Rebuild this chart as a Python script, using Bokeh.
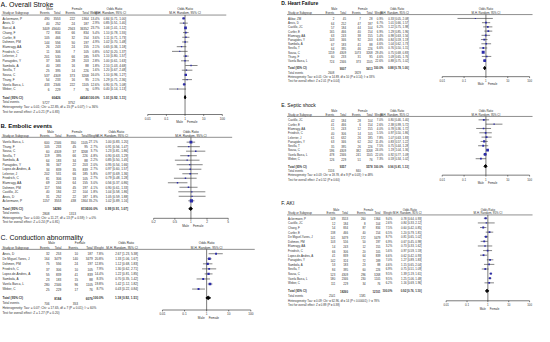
import math
from bokeh.plotting import figure
from bokeh.models import Range1d, LogScale
from bokeh.embed import file_html
from bokeh.resources import INLINE
from bokeh.core.properties import value

FONT = value("Liberation Sans")
INK = "#303030"
BLUE = "#2a2aa8"

# ---------------- data ----------------
# A. Overall Stroke
a_study = ["Ackermann, P", "Anvis, D", "Barcal, A", "Chang, F", "Curtler, E", "Dohmen, PM",
           "Elamragy, AA", "Friedrich, C", "Lelerrier, J", "Panagides, Y", "Sambola, A",
           "Sevilla, T", "Sousa, C", "Thuny, F", "Varela Barca, L", "Weber, C"]
a_m_ev = [490, 40, 3409, 72, 105, 144, 26, 11, 201, 37, 40, 25, 537, 54, 433, 6]
a_m_tot = [3553, 252, 45640, 834, 466, 556, 243, 306, 530, 346, 183, 395, 4309, 233, 2346, 229]
a_f_ev = [222, 24, 2563, 66, 32, 50, 24, 7, 66, 28, 16, 14, 373, 16, 222, 7]
a_f_tot = [1364, 187, 36352, 834, 154, 197, 155, 105, 185, 203, 88, 226, 3268, 95, 1105, 76]
a_weight = [13.4, 2.9, 23.7, 5.4, 3.6, 4.9, 2.1, 0.8, 5.6, 2.8, 1.8, 1.6, 16.0, 2.1, 12.6, 0.9]
a_or = [0.84, 0.85, 1.06, 1.10, 1.11, 1.02, 0.65, 0.52, 1.10, 1.00, 2.10, 1.20, 1.10, 1.29, 0.90, 0.40]
a_lo = [0.71, 0.51, 1.01, 0.78, 0.71, 0.70, 0.36, 0.20, 0.80, 0.61, 1.03, 0.67, 0.96, 0.71, 0.75, 0.14]
a_hi = [1.00, 1.40, 1.12, 1.55, 1.73, 1.48, 1.18, 1.37, 1.57, 1.63, 4.68, 2.48, 1.27, 2.36, 1.08, 1.13]
a_total = dict(m_tot=60426, f_tot=44540, orv=1.01, lo=0.92, hi=1.11, m_ev=5727, f_ev=3752,
               het="Heterogeneity: Tau\u00b2 = 0.01; Chi\u00b2 = 22.85, df = 15 (P = 0.07); I\u00b2 = 36%",
               test="Test for overall effect: Z = 0.21 (P = 0.83)")
a_ticks = [0.01, 0.1, 1, 10, 100]
a_tick_labels = ["0.01", "0.1", "1", "10", "100"]

# B. Embolic events
b_study = ["Varela Barca, L", "Thuny, F", "Sousa, C", "Sevilla, T", "Sambola, A", "Panagides, Y",
           "Lopez-de-Andres, A", "Lelerrier, J", "Friedrich, C", "Elamragy, AA", "Dohmen, PM",
           "Castillo, JC", "Anvis, D", "Ackermann, P"]
b_m_ev = [600, 105, 60, 119, 64, 36, 34, 202, 81, 69, 117, 40, 31, 1157]
b_m_tot = [2346, 233, 4309, 395, 183, 347, 839, 531, 306, 243, 556, 184, 252, 3553]
b_f_ev = [350, 45, 37, 66, 34, 22, 35, 66, 33, 64, 45, 22, 22, 438]
b_f_tot = [1105, 95, 3268, 226, 88, 203, 839, 185, 105, 155, 197, 104, 187, 1364]
b_weight = [27.1, 2.7, 3.7, 4.8, 2.2, 2.0, 2.7, 5.8, 2.7, 3.0, 4.1, 1.8, 1.8, 35.2]
b_or = [1.00, 0.91, 1.23, 0.90, 0.85, 0.95, 0.97, 0.97, 0.79, 0.56, 0.90, 1.04, 1.05, 1.02]
b_lo = [0.83, 0.56, 0.81, 0.63, 0.50, 0.54, 0.60, 0.69, 0.48, 0.37, 0.61, 0.58, 0.59, 0.89]
b_hi = [1.20, 1.47, 1.86, 1.29, 1.45, 1.66, 1.57, 1.36, 1.28, 0.86, 1.33, 1.86, 1.88, 1.16]
b_total = dict(m_tot=14280, f_tot=8116, orv=0.99, lo=0.91, hi=1.07, m_ev=2808, f_ev=1313,
               het="Heterogeneity: Tau\u00b2 = 0.00; Chi\u00b2 = 11.27, df = 13 (P = 0.59); I\u00b2 = 0%",
               test="Test for overall effect: Z = 0.24 (P = 0.81)")
b_ticks = [0.2, 0.5, 1, 2, 5]
b_tick_labels = ["0.2", "0.5", "1", "2", "5"]

# C. Conduction abnormality
c_study = ["Anvis, D", "De Miguel-Yanes, J", "Dohmen, PM", "Friedrich, C", "Lopez-de-Andres, A",
           "Sambola, A", "Varela Barca, L", "Weber, C"]
c_m_ev = [32, 164, 75, 37, 55, 23, 280, 25]
c_m_tot = [253, 3479, 556, 306, 839, 183, 2346, 229]
c_f_ev = [10, 140, 24, 10, 41, 15, 96, 17]
c_f_tot = [187, 3479, 197, 105, 839, 88, 1105, 76]
c_weight = [7.8, 20.8, 12.8, 7.9, 14.4, 8.3, 19.8, 8.7]
c_or = [2.67, 1.33, 1.12, 1.30, 1.22, 0.70, 1.42, 0.43]
c_lo = [1.23, 1.06, 0.68, 0.62, 0.81, 0.35, 1.12, 0.22]
c_hi = [5.38, 1.67, 1.83, 2.71, 1.85, 1.42, 1.82, 0.84]
c_total = dict(m_tot=8184, f_tot=6076, orv=1.18, lo=0.92, hi=1.51, m_ev=706, f_ev=353,
               het="Heterogeneity: Tau\u00b2 = 0.07; Chi\u00b2 = 17.65, df = 7 (P = 0.01); I\u00b2 = 60%",
               test="Test for overall effect: Z = 1.27 (P = 0.20)")
c_ticks = [0.01, 0.1, 1, 10, 100]
c_tick_labels = ["0.01", "0.1", "1", "10", "100"]

# D. Heart Failure
d_study = ["Akbar, ZM", "Anvis, D", "Castillo, JC", "Curtler, E", "Elamragy, AA", "Panagides, Y",
           "Sambola, A", "Sevilla, T", "Sousa, C", "Thuny, F", "Varela Barca, L"]
d_m_ev = [2, 64, 57, 165, 63, 143, 67, 64, 1159, 60, 724]
d_m_tot = [45, 252, 184, 466, 243, 346, 183, 395, 4309, 233, 2346]
d_f_ev = [7, 47, 44, 40, 38, 92, 41, 46, 1073, 31, 373]
d_f_tot = [28, 187, 104, 154, 155, 203, 88, 226, 3268, 95, 1105]
d_weight = [0.9, 6.7, 6.2, 6.9, 5.4, 6.8, 4.6, 6.6, 29.4, 4.6, 22.6]
d_or = [0.33, 1.01, 1.22, 1.29, 0.98, 0.84, 1.04, 0.76, 0.75, 1.09, 0.88]
d_lo = [0.05, 0.66, 0.75, 0.85, 0.63, 0.59, 0.62, 0.50, 0.68, 0.65, 0.75]
d_hi = [2.08, 1.57, 1.98, 1.96, 1.56, 1.19, 1.73, 1.15, 0.83, 1.76, 1.02]
d_total = dict(m_tot=9007, f_tot=5613, orv=0.88, lo=0.78, hi=1.00, m_ev=2608, f_ev=1829,
               het="Heterogeneity: Tau\u00b2 = 0.01; Chi\u00b2 = 14.89, df = 10 (P = 0.14); I\u00b2 = 33%",
               test="Test for overall effect: Z = 2.01 (P = 0.04)")
d_ticks = [0.01, 0.1, 1, 10, 100]
d_tick_labels = ["0.01", "0.1", "1", "10", "100"]

# E. Septic shock
e_study = ["Castillo, JC", "Curtler, E", "Elamragy, AA", "Friedrich, C", "Lelerrier, J",
           "Panagides, Y", "Sevilla, T", "Sousa, C", "Varela Barca, L", "Weber, C"]
e_m_ev = [42, 41, 15, 40, 61, 63, 35, 596, 478, 126]
e_m_tot = [184, 466, 243, 306, 632, 346, 395, 4309, 2346, 229]
e_f_ev = [28, 6, 12, 14, 26, 62, 26, 382, 241, 51]
e_f_tot = [104, 154, 155, 105, 185, 202, 226, 3268, 1105, 76]
e_weight = [7.0, 2.6, 4.0, 5.5, 7.8, 11.4, 7.5, 24.0, 22.0, 7.3]
e_or = [0.80, 2.38, 0.78, 0.97, 1.07, 0.83, 0.75, 1.19, 0.92, 0.59]
e_lo = [0.46, 0.99, 0.36, 0.50, 0.63, 0.57, 0.44, 1.04, 0.77, 0.34]
e_hi = [1.40, 5.72, 1.72, 1.86, 1.83, 1.22, 1.28, 1.36, 1.09, 1.02]
e_total = dict(m_tot=9357, f_tot=5578, orv=0.96, lo=0.81, hi=1.13, m_ev=1516, f_ev=840,
               het="Heterogeneity: Tau\u00b2 = 0.03; Chi\u00b2 = 18.78, df = 9 (P = 0.03); I\u00b2 = 48%",
               test="Test for overall effect: Z = 0.52 (P = 0.60)")
e_ticks = [0.01, 0.1, 1, 10, 100]
e_tick_labels = ["0.01", "0.1", "1", "10", "100"]

# F. AKI
f_study = ["Ackermann, P", "Castillo, JC", "Chang, F", "Curtler, E", "De Miguel-Yanes, J",
           "Dohmen, PM", "Elamragy, AA", "Friedrich, C", "Lopez-de-Andres, A", "Panagides, Y",
           "Sambola, A", "Sevilla, T", "Sousa, C", "Varela Barca, L", "Weber, C"]
f_m_ev = [549, 12, 54, 138, 141, 103, 14, 66, 41, 142, 53, 84, 523, 580, 111]
f_m_tot = [3553, 184, 834, 466, 3479, 556, 243, 306, 839, 324, 183, 395, 4309, 2346, 229]
f_f_ev = [260, 8, 87, 40, 172, 50, 12, 20, 64, 72, 23, 60, 296, 230, 34]
f_f_tot = [1364, 104, 834, 154, 3479, 197, 155, 105, 839, 189, 88, 226, 3268, 1105, 76]
f_weight = [9.4, 2.6, 7.5, 6.5, 8.7, 6.9, 3.2, 5.6, 6.6, 7.0, 4.6, 6.9, 9.5, 9.5, 6.2]
f_or = [0.78, 0.84, 0.60, 1.20, 0.81, 0.67, 0.73, 0.97, 0.62, 1.27, 1.15, 0.75, 1.39, 1.25, 1.16]
f_lo = [0.64, 0.33, 0.42, 0.79, 0.65, 0.45, 0.33, 0.59, 0.42, 0.89, 0.65, 0.51, 1.19, 1.06, 0.69]
f_hi = [0.93, 2.12, 0.85, 1.81, 1.02, 0.98, 1.62, 1.59, 0.93, 1.83, 2.04, 1.09, 1.61, 1.48, 1.96]
f_total = dict(m_tot=18260, f_tot=12101, orv=0.92, lo=0.76, hi=1.10, m_ev=2541, f_ev=1581,
               het="Heterogeneity: Tau\u00b2 = 0.09; Chi\u00b2 = 62.96, df = 14 (P < 0.00001); I\u00b2 = 78%",
               test="Test for overall effect: Z = 0.89 (P = 0.38)")
f_ticks = [0.01, 0.1, 1, 10, 100]
f_tick_labels = ["0.01", "0.1", "1", "10", "100"]

# ---------------- layout (reference-pixel coordinates) ----------------
RX0, RX1 = 3.0, 547.0
RY0, RY1 = 3.0, 339.0

p = figure(width=534, height=326, x_range=Range1d(RX0, RX1), y_range=Range1d(RY1, RY0),
           x_axis_location=None, y_axis_location=None, output_backend="svg",
           toolbar_location=None, min_border=0)
p.grid.visible = False
p.outline_line_color = None

extra_ranges, extra_scales = {}, {}


def txt(x, y, t, size, align="left", bold=False, color=INK, rn=None, xoff=0):
    kw = dict(x=x, y=y, text=t, text_font=FONT, text_font_size=size, text_align=align,
              text_baseline="middle", text_color=color, x_offset=xoff)
    if bold:
        kw["text_font_style"] = "bold"
    if rn:
        kw["x_range_name"] = rn
    p.text(**kw)


def panel(key, title, tl, L, study, mev, mtot, fev, ftot, wt, orv, lo, hi, tot, ticks, tlabels):
    fs = L["fs"]
    # log scale for the forest area of this panel
    la, lb = math.log10(L["fa"]), math.log10(L["fb"])
    k = (lb - la) / (L["xb"] - L["xa"])
    extra_ranges[key] = Range1d(10 ** (la - k * (L["xa"] - RX0)), 10 ** (lb + k * (RX1 - L["xb"])))
    extra_scales[key] = LogScale()

    n = len(study)
    ys = [L["r0"] + i * L["h"] for i in range(n)]
    y_tot = L["r0"] + (n + 0.75) * L["h"]
    y_ev = y_tot + L["h"]
    y_het = y_ev + L["h"]
    y_test = y_het + L["h"]

    # title
    txt(L["tx"], L["ty"], [title], tl["size"], bold=tl["bold"], color="#111111")

    # headers
    txt(L["male"], L["yh1"], ["Male"], fs, align="center")
    txt(L["female"], L["yh1"], ["Female"], fs, align="center")
    txt(L["orx"] - 12, L["yh1"], ["Odds Ratio"], fs, align="center")
    txt(1, L["yh1"], ["Odds Ratio"], fs, align="center", rn=key)
    txt(L["sx"], L["yh2"], ["Study or Subgroup"], fs)
    txt([L["mev"], L["fev"]], L["yh2"], ["Events", "Events"], fs, align="right")
    txt([L["mtot"], L["ftot"]], L["yh2"], ["Total", "Total"], fs, align="right")
    txt(L["w"], L["yh2"], ["Weight"], fs, align="right")
    txt(L["orx"], L["yh2"], ["M-H, Random, 95% CI"], fs, align="right")
    txt(1, L["yh2"], ["M-H, Random, 95% CI"], fs, align="center", rn=key)
    p.segment(x0=[L["sx"] - 1], y0=[L["rule"]], x1=[L["rx1"]], y1=[L["rule"]],
              line_color="#444444", line_width=0.6)

    # study rows
    txt(L["sx"], ys, study, fs)
    txt(L["mev"], ys, [str(v) for v in mev], fs, align="right")
    txt(L["mtot"], ys, [str(v) for v in mtot], fs, align="right")
    txt(L["fev"], ys, [str(v) for v in fev], fs, align="right")
    txt(L["ftot"], ys, [str(v) for v in ftot], fs, align="right")
    txt(L["w"], ys, ["%.1f%%" % v for v in wt], fs, align="right")
    txt(L["orx"], ys, ["%.2f [%.2f, %.2f]" % (o, a, b) for o, a, b in zip(orv, lo, hi)], fs, align="right")

    # totals
    txt(L["sx"], y_tot, ["Total (95% CI)"], fs, bold=True)
    txt(L["mtot"], y_tot, [str(tot["m_tot"])], fs, align="right", bold=True)
    txt(L["ftot"], y_tot, [str(tot["f_tot"])], fs, align="right", bold=True)
    txt(L["w"], y_tot, ["100.0%"], fs, align="right", bold=True)
    txt(L["orx"], y_tot, ["%.2f [%.2f, %.2f]" % (tot["orv"], tot["lo"], tot["hi"])], fs,
        align="right", bold=True)
    txt(L["sx"], y_ev, ["Total events"], fs)
    txt(L["mev"], y_ev, [str(tot["m_ev"])], fs, align="right")
    txt(L["fev"], y_ev, [str(tot["f_ev"])], fs, align="right")
    txt(L["sx"], y_het, [tot["het"]], fs)
    txt(L["sx"], y_test, [tot["test"]], fs)

    # forest plot
    ya = L["axis"]
    p.segment(x0=[1], y0=[L["rule"]], x1=[1], y1=[ya], x_range_name=key,
              line_color="#222222", line_width=0.6)
    p.segment(x0=lo, y0=ys, x1=hi, y1=ys, x_range_name=key, line_color="#333333", line_width=0.6)
    p.scatter(x=orv, y=ys, marker="square", size=[0.7 + 0.42 * math.sqrt(w) for w in wt],
              x_range_name=key, color=BLUE, line_width=0)
    dh = 1.7
    p.patch(x=[tot["lo"], tot["orv"], tot["hi"], tot["orv"]],
            y=[y_tot, y_tot - dh, y_tot, y_tot + dh], x_range_name=key, color="#000000")
    # axis
    p.segment(x0=[ticks[0]], y0=[ya], x1=[ticks[-1]], y1=[ya], x_range_name=key,
              line_color="#222222", line_width=0.6)
    p.segment(x0=ticks, y0=[ya] * len(ticks), x1=ticks, y1=[ya + 1.4] * len(ticks),
              x_range_name=key, line_color="#222222", line_width=0.6)
    txt(ticks, ya + 3.6, tlabels, fs, align="center", rn=key)
    txt(1, ya + 7.6, ["Male"], fs, align="right", rn=key, xoff=-2)
    txt(1, ya + 7.6, ["Female"], fs, align="left", rn=key, xoff=2)


LEFT = dict(sx=5, fs="3.15px")
RIGHT = dict(sx=296, fs="2.85px")

LA = dict(LEFT, tx=3, ty=7, yh1=12, yh2=16, rule=18, r0=21.5, h=4.85,
          mev=53, mtot=64, fev=79, ftot=93, w=104, orx=131, male=53, female=81,
          fa=0.01, fb=100, xa=153, xb=229, rx1=233, axis=120.5)
LB = dict(LEFT, tx=3, ty=132, yh1=138, yh2=142, rule=144, r0=149, h=4.65,
          mev=53, mtot=65, fev=80, ftot=92, w=102, orx=133, male=54, female=81,
          fa=0.2, fb=5, xa=159, xb=235, rx1=239, axis=227.5)
LC = dict(LEFT, tx=3, ty=247, yh1=253, yh2=257.5, rule=259.5, r0=264, h=5.2,
          mev=53, mtot=65, fev=82, ftot=97, w=108, orx=143, male=55, female=84,
          fa=0.01, fb=100, xa=168, xb=258, rx1=262, axis=322)
LD = dict(RIGHT, tx=289, ty=6, yh1=11.5, yh2=15.5, rule=17.5, r0=21.5, h=4.35,
          mev=343, mtot=355, fev=370, ftot=382, w=393, orx=419, male=343, female=372,
          fa=0.01, fb=100, xa=453, xb=542, rx1=545, axis=81.5)
LE = dict(RIGHT, tx=289, ty=111, yh1=116.5, yh2=120.5, rule=122.5, r0=126, h=4.45,
          mev=343, mtot=355, fev=370, ftot=382, w=393, orx=419, male=343, female=372,
          fa=0.01, fb=100, xa=453, xb=542, rx1=545, axis=183)
LF = dict(RIGHT, tx=289, ty=212, yh1=218, yh2=222, rule=224, r0=227.5, h=4.75,
          mev=344, mtot=357, fev=375, ftot=390, w=402, orx=432, male=345, female=378,
          fa=0.01, fb=100, xa=457, xb=542, rx1=545, axis=312.5)

panel("A", "A.  Overall Stroke", dict(size="7px", bold=False), LA, a_study, a_m_ev, a_m_tot, a_f_ev,
      a_f_tot, a_weight, a_or, a_lo, a_hi, a_total, a_ticks, a_tick_labels)
panel("B", "B. Embolic events", dict(size="6px", bold=True), LB, b_study, b_m_ev, b_m_tot, b_f_ev,
      b_f_tot, b_weight, b_or, b_lo, b_hi, b_total, b_ticks, b_tick_labels)
panel("C", "C. Conduction abnormality", dict(size="7px", bold=False), LC, c_study, c_m_ev, c_m_tot,
      c_f_ev, c_f_tot, c_weight, c_or, c_lo, c_hi, c_total, c_ticks, c_tick_labels)
panel("D", "D. Heart Failure", dict(size="5px", bold=True), LD, d_study, d_m_ev, d_m_tot, d_f_ev,
      d_f_tot, d_weight, d_or, d_lo, d_hi, d_total, d_ticks, d_tick_labels)
panel("E", "E. Septic shock", dict(size="5px", bold=False), LE, e_study, e_m_ev, e_m_tot, e_f_ev,
      e_f_tot, e_weight, e_or, e_lo, e_hi, e_total, e_ticks, e_tick_labels)
panel("F", "F. AKI", dict(size="5px", bold=False), LF, f_study, f_m_ev, f_m_tot, f_f_ev,
      f_f_tot, f_weight, f_or, f_lo, f_hi, f_total, f_ticks, f_tick_labels)

p.extra_x_ranges = extra_ranges
p.extra_x_scales = extra_scales

open("out.html", "w").write(file_html(p, INLINE))
